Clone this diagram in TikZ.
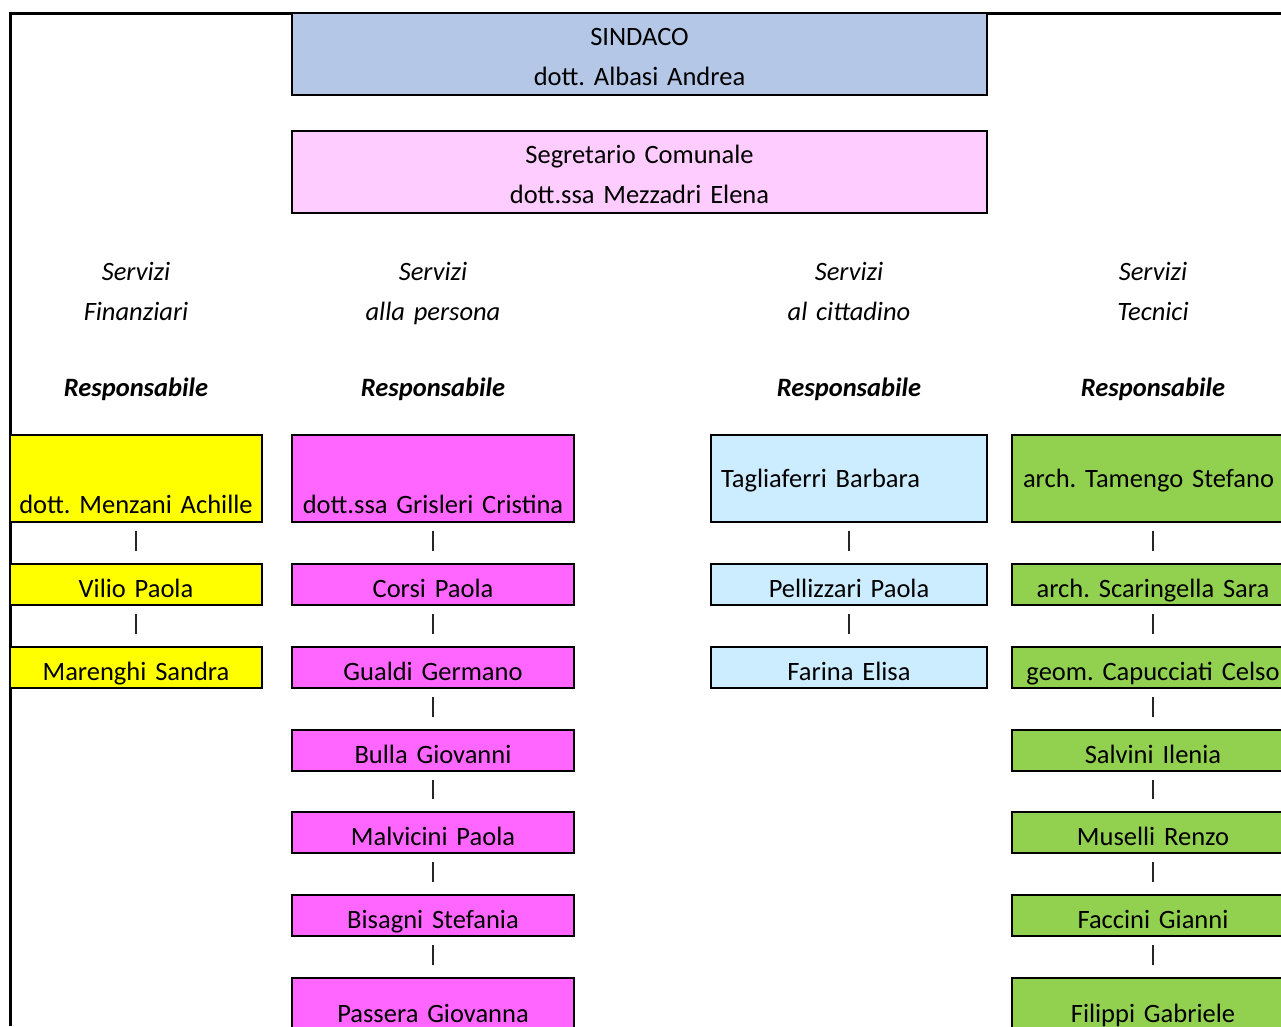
\documentclass[tikz,border=0pt]{standalone}
\usepackage{fontspec}
\setmainfont{Carlito}
\usetikzlibrary{calc}
\definecolor{sindacoBlue}{RGB}{180,199,231}
\definecolor{segrPink}{RGB}{255,204,255}
\definecolor{finYellow}{RGB}{255,255,0}
\definecolor{persMagenta}{RGB}{255,102,255}
\definecolor{cittBlue}{RGB}{204,236,255}
\definecolor{tecGreen}{RGB}{146,208,80}
\newcommand{\cellfont}{\fontsize{26.5}{40}\selectfont\frenchspacing}

\begin{document}
\begin{tikzpicture}[x=1pt,y=-1pt,
    cell/.style={draw=black,line width=2pt,inner sep=0pt,outer sep=0pt,
                 anchor=north west,align=center,font=\cellfont},
    twoline/.style={text height=32.5pt,text depth=49.5pt},
    oneline/.style={text height=33pt,text depth=8pt},
    bottomline/.style={text height=78pt,text depth=9pt},
    midline/.style={text height=52pt,text depth=35pt,align=left},
    lastline/.style={text height=44.5pt,text depth=45.5pt},
    heading/.style={font=\cellfont\itshape,align=center,anchor=base,
                    inner sep=0pt,text width=280pt},
    resp/.style={font=\cellfont\bfseries\itshape,anchor=base,inner sep=0pt},
    bar/.style={line width=2.6pt,draw=black!85,shorten <=9pt,shorten >=13pt},
    frame/.style={line width=3pt}]
    \useasboundingbox (0,0) rectangle (1281,1026);
    \clip (0,0) rectangle (1281,1026);

    % outer frame
    \draw[frame] (10.5,1026) -- (10.5,13.5) -- (1281,13.5);

    % top boxes
    \node[cell,twoline,fill=sindacoBlue,text width=695pt] (sindaco) at (292,13)
        {SINDACO\\dott. Albasi Andrea};
    \node[cell,twoline,fill=segrPink,text width=695pt] (segretario) at (292,131)
        {Segretario Comunale\\dott.ssa Mezzadri Elena};

    % column headings
    \node[heading] (hfin) at (136,280) {Servizi\\Finanziari};
    \node[heading] (hpers) at (433,280) {Servizi\\alla persona};
    \node[heading] (hcitt) at (849,280) {Servizi\\al cittadino};
    \node[heading] (htec) at (1153,280) {Servizi\\Tecnici};
    \node[resp] (rfin) at (136,396.5) {Responsabile};
    \node[resp] (rpers) at (433,396.5) {Responsabile};
    \node[resp] (rcitt) at (849,396.5) {Responsabile};
    \node[resp] (rtec) at (1153,396.5) {Responsabile};

    % Servizi Finanziari
    \node[cell,bottomline,fill=finYellow,text width=252pt] (fin0) at (10,435) {dott. Menzani Achille};
    \node[cell,oneline,fill=finYellow,text width=252pt] (fin1) at (10,564) {Vilio Paola};
    \node[cell,oneline,fill=finYellow,text width=252pt] (fin2) at (10,647) {Marenghi Sandra};

    % Servizi alla persona
    \node[cell,bottomline,fill=persMagenta,text width=282pt] (pers0) at (292,435) {dott.ssa Grisleri Cristina};
    \node[cell,oneline,fill=persMagenta,text width=282pt] (pers1) at (292,564) {Corsi Paola};
    \node[cell,oneline,fill=persMagenta,text width=282pt] (pers2) at (292,647) {Gualdi Germano};
    \node[cell,oneline,fill=persMagenta,text width=282pt] (pers3) at (292,730) {Bulla Giovanni};
    \node[cell,oneline,fill=persMagenta,text width=282pt] (pers4) at (292,812) {Malvicini Paola};
    \node[cell,oneline,fill=persMagenta,text width=282pt] (pers5) at (292,895) {Bisagni Stefania};
    \node[cell,lastline,fill=persMagenta,text width=282pt] (pers6) at (292,978) {Passera Giovanna};

    % Servizi al cittadino
    \node[cell,midline,fill=cittBlue,inner xsep=10pt,text width=256pt] (citt0) at (711,435) {Tagliaferri Barbara};
    \node[cell,oneline,fill=cittBlue,text width=276pt] (citt1) at (711,564) {Pellizzari Paola};
    \node[cell,oneline,fill=cittBlue,text width=276pt] (citt2) at (711,647) {Farina Elisa};

    % Servizi Tecnici
    \node[cell,midline,fill=tecGreen,inner xsep=11pt,text width=260pt] (tec0) at (1012,435) {arch. Tamengo Stefano};
    \node[cell,oneline,fill=tecGreen,text width=282pt] (tec1) at (1012,564) {arch. Scaringella Sara};
    \node[cell,oneline,fill=tecGreen,text width=282pt] (tec2) at (1012,647) {geom. Capucciati Celso};
    \node[cell,oneline,fill=tecGreen,text width=282pt] (tec3) at (1012,730) {Salvini Ilenia};
    \node[cell,oneline,fill=tecGreen,text width=282pt] (tec4) at (1012,812) {Muselli Renzo};
    \node[cell,oneline,fill=tecGreen,text width=282pt] (tec5) at (1012,895) {Faccini Gianni};
    \node[cell,lastline,fill=tecGreen,text width=282pt] (tec6) at (1012,978) {Filippi Gabriele};

    % bars between boxes
    \foreach \a/\b in {fin0/fin1,fin1/fin2,
                       pers0/pers1,pers1/pers2,pers2/pers3,pers3/pers4,pers4/pers5,pers5/pers6,
                       citt0/citt1,citt1/citt2,
                       tec0/tec1,tec1/tec2,tec2/tec3,tec3/tec4,tec4/tec5,tec5/tec6}
        \draw[bar] (\a) -- (\b);
\end{tikzpicture}
\end{document}
